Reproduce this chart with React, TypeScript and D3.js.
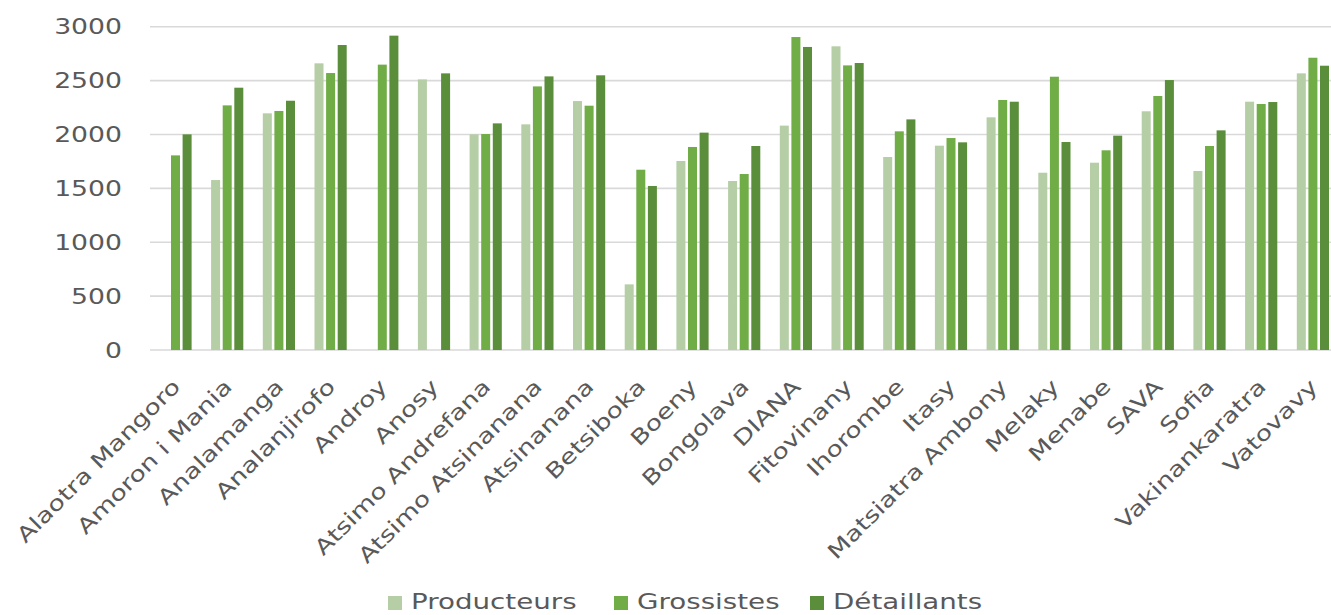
import React from "react";
import * as d3 from "d3";

const categories = [
  "Alaotra Mangoro", "Amoron i Mania", "Analamanga", "Analanjirofo", "Androy", "Anosy",
  "Atsimo Andrefana", "Atsimo Atsinanana", "Atsinanana", "Betsiboka", "Boeny", "Bongolava",
  "DIANA", "Fitovinany", "Ihorombe", "Itasy", "Matsiatra Ambony", "Melaky", "Menabe",
  "SAVA", "Sofia", "Vakinankaratra", "Vatovavy",
];
const producteurs = [null, 1577, 2196, 2660, null, 2511, 2001, 2094, 2310, 609, 1754, 1568, 2082, 2818, 1791, 1896, 2159, 1645, 1738, 2215, 1661, 2304, 2567];
const grossistes = [1806, 2270, 2218, 2570, 2648, null, 2004, 2446, 2267, 1673, 1884, 1633, 2904, 2641, 2029, 1967, 2320, 2536, 1853, 2357, 1893, 2283, 2712];
const detaillants = [2001, 2434, 2313, 2830, 2917, 2567, 2103, 2539, 2549, 1522, 2017, 1893, 2812, 2663, 2140, 1927, 2304, 1930, 1989, 2505, 2038, 2301, 2638];
const seriesNames = ["Producteurs", "Grossistes", "Détaillants"];
const seriesColors = ["#b5cea6", "#70ad47", "#5b8e3a"];
const yTicks = [0, 500, 1000, 1500, 2000, 2500, 3000];

const W = 1331;
const H = 615;
const FONT = "'DejaVu Sans', sans-serif";
const SX = 1.27;
const TEXT = "#595959";

export default function App() {
  const series = [producteurs, grossistes, detaillants];
  const x0 = d3.scaleBand<string>().domain(categories).range([149.65, 1338.75]).paddingInner(0).paddingOuter(0);
  const x1 = d3.scaleBand<string>().domain(seriesNames).range([-17.4, 17.4]).paddingInner(0.224).paddingOuter(0.112);
  const y = d3.scaleLinear().domain([0, 3000]).range([350, 26.7]);
  const legendX = [388, 614, 810];

  return (
    <svg width={W} height={H} style={{ position: "absolute", left: 0, top: 0, background: "#fff" }}>
      {yTicks.map((t) => (
        <g key={t}>
          <line x1={150} x2={W} y1={y(t)} y2={y(t)} stroke="#d9d9d9" strokeWidth={1.6} />
          <text
            transform={`translate(122,${y(t) + 7.5}) scale(${SX},1)`}
            textAnchor="end"
            fontFamily={FONT}
            fontSize={21}
            fill={TEXT}
          >
            {t}
          </text>
        </g>
      ))}
      {categories.map((c, i) => {
        const cx = (x0(c) as number) + x0.bandwidth() / 2;
        return (
          <g key={c}>
            {series.map((s, k) => {
              const v = s[i];
              if (v == null) return null;
              return (
                <rect
                  key={k}
                  x={cx + (x1(seriesNames[k]) as number)}
                  y={y(v)}
                  width={x1.bandwidth()}
                  height={y(0) - y(v)}
                  fill={seriesColors[k]}
                />
              );
            })}
            <text
              transform={`translate(${cx + 6},${388}) rotate(-45) scale(${SX},1)`}
              textAnchor="end"
              fontFamily={FONT}
              fontSize={21}
              fill={TEXT}
            >
              {c}
            </text>
          </g>
        );
      })}
      {seriesNames.map((n, k) => (
        <g key={n}>
          <rect x={legendX[k]} y={596} width={14} height={14} fill={seriesColors[k]} />
          <text
            transform={`translate(${legendX[k] + 23},${609}) scale(1.26,1)`}
            fontFamily={FONT}
            fontSize={22}
            fill={TEXT}
          >
            {n}
          </text>
        </g>
      ))}
    </svg>
  );
}
